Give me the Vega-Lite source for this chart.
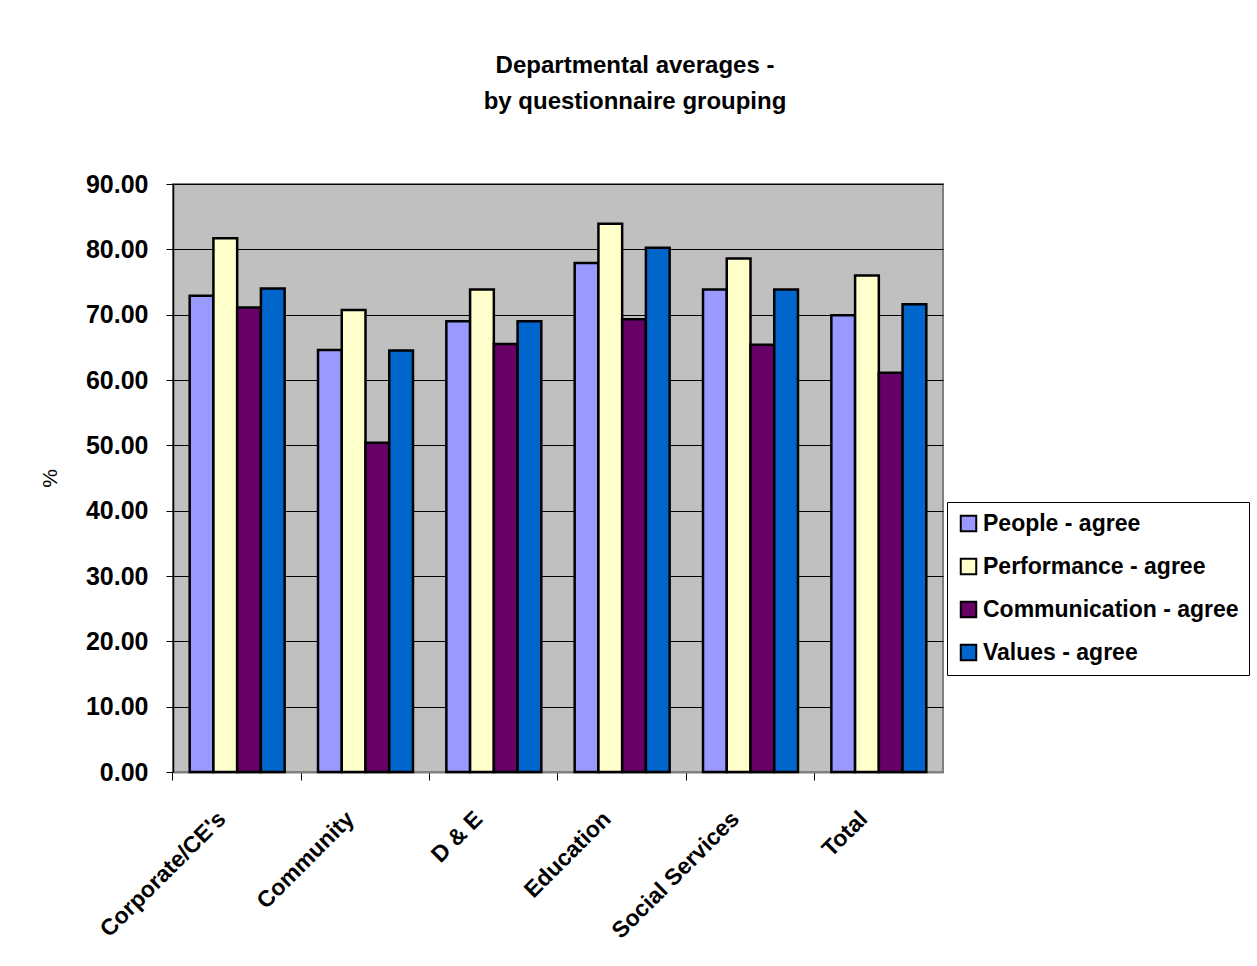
{
  "$schema": "https://vega.github.io/schema/vega-lite/v6.json",
  "width": 770,
  "height": 588,
  "autosize": {"type": "none"},
  "padding": {"left": 173, "top": 184, "right": 314, "bottom": 194},
  "background": "white",
  "title": {
    "text": ["Departmental averages -", "by questionnaire grouping"],
    "anchor": "middle",
    "frame": "group",
    "dx": 77,
    "offset": 58,
    "font": "Liberation Sans Narrow, Liberation Sans",
    "fontSize": 24,
    "fontWeight": "bold",
    "lineHeight": 36,
    "color": "black"
  },
  "data": {
    "values": [
      {"dept": "Corporate/CE's", "series": "People - agree", "value": 72.9},
      {"dept": "Corporate/CE's", "series": "Performance - agree", "value": 81.7},
      {"dept": "Corporate/CE's", "series": "Communication - agree", "value": 71.1},
      {"dept": "Corporate/CE's", "series": "Values - agree", "value": 74.0},
      {"dept": "Community", "series": "People - agree", "value": 64.6},
      {"dept": "Community", "series": "Performance - agree", "value": 70.7},
      {"dept": "Community", "series": "Communication - agree", "value": 50.4},
      {"dept": "Community", "series": "Values - agree", "value": 64.5},
      {"dept": "D & E", "series": "People - agree", "value": 69.0},
      {"dept": "D & E", "series": "Performance - agree", "value": 73.85},
      {"dept": "D & E", "series": "Communication - agree", "value": 65.5},
      {"dept": "D & E", "series": "Values - agree", "value": 69.0},
      {"dept": "Education", "series": "People - agree", "value": 77.9},
      {"dept": "Education", "series": "Performance - agree", "value": 83.9},
      {"dept": "Education", "series": "Communication - agree", "value": 69.3},
      {"dept": "Education", "series": "Values - agree", "value": 80.25},
      {"dept": "Social Services", "series": "People - agree", "value": 73.85},
      {"dept": "Social Services", "series": "Performance - agree", "value": 78.6},
      {"dept": "Social Services", "series": "Communication - agree", "value": 65.4},
      {"dept": "Social Services", "series": "Values - agree", "value": 73.85},
      {"dept": "Total", "series": "People - agree", "value": 69.9},
      {"dept": "Total", "series": "Performance - agree", "value": 76.0},
      {"dept": "Total", "series": "Communication - agree", "value": 61.1},
      {"dept": "Total", "series": "Values - agree", "value": 71.6}
    ]
  },
  "mark": {"type": "bar", "stroke": "black", "strokeWidth": 2.5, "strokeJoin": "miter"},
  "encoding": {
    "x": {
      "field": "dept",
      "type": "nominal",
      "sort": null,
      "scale": {"paddingInner": 0.26, "paddingOuter": 0.13},
      "axis": {
        "title": null,
        "bandPosition": -0.176,
        "labelOffset": -15,
        "labelAngle": -45,
        "labelAlign": "right",
        "labelBaseline": "middle",
        "labelFont": "Liberation Sans",
        "labelFontSize": 23,
        "labelFontWeight": "bold",
        "labelColor": "black",
        "labelPadding": 35,
        "tickColor": "black",
        "tickSize": 8,
        "tickWidth": 1,
        "domainColor": "#808080",
        "domainWidth": 2,
        "grid": false
      }
    },
    "xOffset": {
      "field": "series",
      "type": "nominal",
      "sort": ["People - agree", "Performance - agree", "Communication - agree", "Values - agree"],
      "scale": {"paddingInner": 0, "paddingOuter": 0}
    },
    "y": {
      "field": "value",
      "type": "quantitative",
      "scale": {"domain": [0, 90], "nice": false},
      "axis": {
        "title": "%",
        "titleAngle": -90,
        "titleFont": "Liberation Sans",
        "titleFontSize": 21,
        "titleFontWeight": "normal",
        "titleColor": "black",
        "titlePadding": 25,
        "values": [0, 10, 20, 30, 40, 50, 60, 70, 80, 90],
        "format": ".2f",
        "labelFont": "Liberation Sans",
        "labelFontSize": 25,
        "labelFontWeight": "bold",
        "labelColor": "black",
        "labelPadding": 18,
        "tickColor": "black",
        "tickSize": 7,
        "tickWidth": 1,
        "domainColor": "black",
        "domainWidth": 1.5,
        "grid": true,
        "gridColor": "black",
        "gridWidth": 1.2,
        "gridOpacity": 1
      }
    },
    "color": {
      "field": "series",
      "type": "nominal",
      "sort": ["People - agree", "Performance - agree", "Communication - agree", "Values - agree"],
      "scale": {
        "domain": ["People - agree", "Performance - agree", "Communication - agree", "Values - agree"],
        "range": ["#9999FF", "#FFFFCC", "#660066", "#0066CC"]
      },
      "legend": {
        "title": null,
        "orient": "none",
        "legendX": 774,
        "legendY": 318,
        "symbolType": "square",
        "symbolSize": 240,
        "symbolStrokeColor": "black",
        "symbolStrokeWidth": 2,
        "symbolOpacity": 1,
        "labelFont": "Liberation Sans",
        "labelFontSize": 23,
        "labelFontWeight": "bold",
        "labelColor": "black",
        "labelOffset": 3,
        "labelLimit": 500,
        "rowPadding": 18,
        "padding": 10,
        "strokeColor": "black",
        "fillColor": "white"
      }
    }
  },
  "config": {
    "view": {"fill": "#C0C0C0", "stroke": "#808080", "strokeWidth": 2}
  }
}
